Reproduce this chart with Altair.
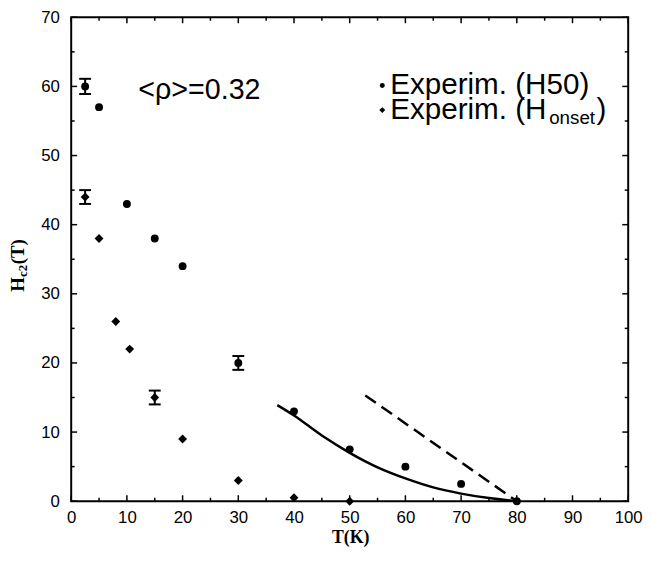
import altair as alt
import pandas as pd

# ---- data ----
h50_T = [2.5, 5, 10, 15, 20, 30, 40, 50, 60, 70, 80]
h50_H = [60, 57, 43, 38, 34, 20, 13, 7.5, 5, 2.5, 0]

hon_T = [2.5, 5, 8, 10.5, 15, 20, 30, 40, 50]
hon_H = [44, 38, 26, 22, 15, 9, 3, 0.5, 0]

err_T = [2.5, 30, 2.5, 15]
err_lo = [58.9, 19.0, 43.0, 14.0]
err_hi = [61.1, 21.0, 45.0, 16.0]

fit_T = [37, 40, 45, 50, 55, 60, 65, 70, 75, 80]
fit_H = [13.9, 12.4, 9.5, 7.0, 4.9, 3.3, 2.0, 1.1, 0.45, 0.0]

dash_T = [52.8, 80]
dash_H = [15.3, 0.0]

x_major = list(range(0, 101, 10))
x_minor = list(range(5, 100, 10))
y_major = list(range(0, 71, 10))
y_minor = list(range(5, 70, 10))

W, H = 564, 490

xs = alt.Scale(domain=[0, 100], nice=False, zero=False)
ys = alt.Scale(domain=[0, 70], nice=False, zero=False)
xaxis = alt.Axis(values=x_major, labelFont="Liberation Sans", labelFontSize=17,
                 labelColor="black", ticks=False, domain=False, grid=False,
                 labelPadding=9, title=None, labelFlush=False)
yaxis = alt.Axis(values=y_major, labelFont="Liberation Sans", labelFontSize=17,
                 labelColor="black", ticks=False, domain=False, grid=False,
                 labelPadding=12, title=None, labelFlush=False)


def X(f="T"):
    return alt.X(f"{f}:Q", scale=xs, axis=xaxis)


def Y(f="H"):
    return alt.Y(f"{f}:Q", scale=ys, axis=yaxis)


df50 = pd.DataFrame({"T": h50_T, "H": h50_H})
dfon = pd.DataFrame({"T": hon_T, "H": hon_H})
dferr = pd.DataFrame({"T": err_T, "lo": err_lo, "hi": err_hi})
dffit = pd.DataFrame({"T": fit_T, "H": fit_H})
dfdash = pd.DataFrame({"T": dash_T, "H": dash_H})

pts50 = alt.Chart(df50).mark_point(shape="circle", filled=True, size=64,
                                   color="black", opacity=1).encode(x=X(), y=Y())
ptson = alt.Chart(dfon).mark_point(shape="diamond", filled=True, size=81,
                                   color="black", opacity=1).encode(x=X(), y=Y())

err_rule = alt.Chart(dferr).mark_rule(color="black", strokeWidth=2).encode(
    x=X(), y=Y("lo"), y2="hi:Q")
err_cap_lo = alt.Chart(dferr).mark_tick(color="black", thickness=2, size=12,
                                        orient="horizontal", opacity=1).encode(x=X(), y=Y("lo"))
err_cap_hi = alt.Chart(dferr).mark_tick(color="black", thickness=2, size=12,
                                        orient="horizontal", opacity=1).encode(x=X(), y=Y("hi"))

fit = alt.Chart(dffit).mark_line(color="black", strokeWidth=2.5, interpolate="monotone").encode(
    x=X(), y=Y())
dash = alt.Chart(dfdash).mark_line(color="black", strokeWidth=2.5, strokeDash=[13, 7]).encode(
    x=X(), y=Y())


# ---- inward ticks on all four sides ----
def xticks(vals, length):
    d = pd.DataFrame({"T": vals})
    b = alt.Chart(d).mark_rule(color="black", strokeWidth=1.5).encode(
        x=X(), y=alt.value(H), y2=alt.value(H - length))
    t = alt.Chart(d).mark_rule(color="black", strokeWidth=1.5).encode(
        x=X(), y=alt.value(0), y2=alt.value(length))
    return [b, t]


def yticks(vals, length):
    d = pd.DataFrame({"H": vals})
    l = alt.Chart(d).mark_rule(color="black", strokeWidth=1.5).encode(
        y=Y(), x=alt.value(0), x2=alt.value(length))
    r = alt.Chart(d).mark_rule(color="black", strokeWidth=1.5).encode(
        y=Y(), x=alt.value(W), x2=alt.value(W - length))
    return [l, r]


ticks = xticks(x_major, 6) + xticks(x_minor, 3.5) + yticks(y_major, 6) + yticks(y_minor, 3.5)

# ---- texts ----
one = pd.DataFrame({"a": [0]})


def txt(s, x, y, size, font="Liberation Sans", weight="normal", align="left",
        baseline="middle", angle=0):
    return alt.Chart(one).mark_text(text=s, font=font, fontSize=size, fontWeight=weight,
                                    align=align, baseline=baseline, angle=angle,
                                    color="black").encode(x=alt.value(x), y=alt.value(y))


rho = txt("<ρ>=0.32", 68, 74, 29)

leg_size = 30
leg1 = txt("Experim. (H50)", 323, 69, leg_size)
leg2a = txt("Experim. (H", 323, 94, leg_size)
leg2b = txt("onset", 484, 102, 19)
leg2c = txt(")", 532, 94, leg_size)
bul1 = alt.Chart(one).mark_point(shape="circle", filled=True, size=25, color="black",
                                 opacity=1).encode(x=alt.value(315), y=alt.value(69))
bul2 = alt.Chart(one).mark_point(shape="diamond", filled=True, size=36, color="black",
                                 opacity=1).encode(x=alt.value(315), y=alt.value(94))

xtitle = txt("T(K)", 283, 527, 18, font="Liberation Serif", weight="bold", align="center")
yt_H = txt("H", -54, 278, 19, font="Liberation Serif", weight="bold", angle=270)
yt_c2 = txt("c2", -49, 263, 13, font="Liberation Serif", weight="bold", angle=270)
yt_T = txt("(T)", -54, 250, 19, font="Liberation Serif", weight="bold", angle=270)

chart = alt.layer(
    *ticks, fit, dash, err_rule, err_cap_lo, err_cap_hi, pts50, ptson,
    rho, bul1, bul2, leg1, leg2a, leg2b, leg2c, xtitle, yt_H, yt_c2, yt_T
).properties(
    width=W, height=H,
    padding={"left": 64, "top": 6, "right": 16, "bottom": 45},
    autosize=alt.AutoSizeParams(type="none"),
).configure_view(stroke="black", strokeWidth=2)

chart.save("out.html", embed_options={"renderer": "svg", "actions": False})
